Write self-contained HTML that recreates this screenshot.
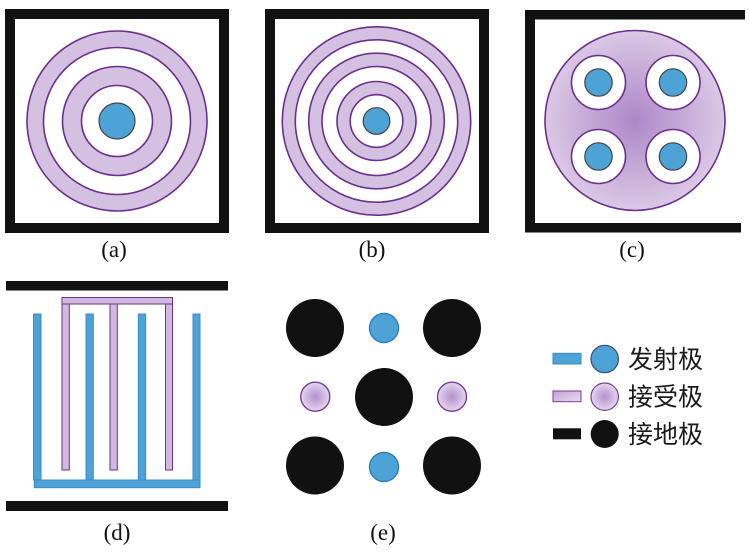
<!DOCTYPE html>
<html><head><meta charset="utf-8"><style>
html,body{margin:0;padding:0;background:#fff;}
svg{display:block;}
.lbl{font-family:"Liberation Serif","Times New Roman",serif;font-size:23px;fill:#111;}
.cjk{font-family:"Liberation Sans","Noto Sans CJK SC",sans-serif;font-size:25px;fill:#1a1a1a;}
</style></head><body>
<svg width="750" height="552" viewBox="0 0 750 552" xmlns="http://www.w3.org/2000/svg">
<defs>
<radialGradient id="gc" cx="50%" cy="50%" r="50%">
<stop offset="0" stop-color="#ad88c7"/><stop offset="1" stop-color="#dac8e5"/>
</radialGradient>
<radialGradient id="gs" cx="50%" cy="50%" r="50%">
<stop offset="0" stop-color="#b48fcd"/><stop offset="1" stop-color="#e4d7ed"/>
</radialGradient>
<linearGradient id="gl" x1="0" y1="0" x2="1" y2="1">
<stop offset="0" stop-color="#c0a2d4"/><stop offset="1" stop-color="#e8ddef"/>
</linearGradient>
</defs>
<rect width="750" height="552" fill="#fff"/>

<!-- (a) -->
<rect x="10" y="14" width="214" height="214" fill="none" stroke="#111" stroke-width="10"/>
<g stroke="#6b2f8e" stroke-width="1.6">
<circle cx="117" cy="121" r="90" fill="#d4c0e0"/>
<circle cx="117" cy="121" r="73.5" fill="#fff"/>
<circle cx="117" cy="121" r="54.5" fill="#d4c0e0"/>
<circle cx="117" cy="121" r="35.5" fill="#fff"/>
</g>
<circle cx="117" cy="121" r="18" fill="#4da2d6" stroke="#444" stroke-width="1.2"/>
<text class="lbl" x="114" y="257" text-anchor="middle">(a)</text>

<!-- (b) -->
<rect x="270" y="14" width="214" height="214" fill="none" stroke="#111" stroke-width="10"/>
<g stroke="#6b2f8e" stroke-width="1.6">
<circle cx="376.5" cy="121" r="94.2" fill="#d4c0e0"/>
<circle cx="376.5" cy="121" r="81.2" fill="#fff"/>
<circle cx="376.5" cy="121" r="67.8" fill="#d4c0e0"/>
<circle cx="376.5" cy="121" r="54.5" fill="#fff"/>
<circle cx="376.5" cy="121" r="39.5" fill="#d4c0e0"/>
<circle cx="376.5" cy="121" r="26.3" fill="#fff"/>
</g>
<circle cx="376.5" cy="121" r="13.3" fill="#4da2d6" stroke="#444" stroke-width="1.2"/>
<text class="lbl" x="372" y="257" text-anchor="middle">(b)</text>

<!-- (c) -->
<rect x="525" y="10" width="220" height="9.5" fill="#111"/>
<rect x="525" y="10" width="10" height="222" fill="#111"/>
<rect x="525" y="223" width="216" height="9.5" fill="#111"/>
<circle cx="635" cy="120.5" r="90" fill="url(#gc)" stroke="#6b2f8e" stroke-width="1.6"/>
<g stroke="#6b2f8e" stroke-width="1.6" fill="#fff">
<circle cx="598.5" cy="82.5" r="27"/>
<circle cx="673" cy="82.5" r="27"/>
<circle cx="598.5" cy="156.5" r="27"/>
<circle cx="673" cy="156.5" r="27"/>
</g>
<g fill="#4da2d6" stroke="#444" stroke-width="1.2">
<circle cx="598.5" cy="82.5" r="13.7"/>
<circle cx="673" cy="82.5" r="13.7"/>
<circle cx="598.5" cy="156.5" r="13.7"/>
<circle cx="673" cy="156.5" r="13.7"/>
</g>
<text class="lbl" x="632" y="257" text-anchor="middle">(c)</text>

<!-- (d) -->
<rect x="6" y="281" width="222" height="9.5" fill="#111"/>
<rect x="6" y="501" width="222" height="10" fill="#111"/>
<g fill="#d0bade" stroke="#6e3290" stroke-width="1">
<rect x="62" y="297.5" width="110.5" height="6.5"/>
<rect x="62" y="304" width="7.3" height="166"/>
<rect x="110" y="304" width="7.3" height="166"/>
<rect x="165.5" y="304" width="7" height="166"/>
</g>
<g fill="#4da2d6" stroke="#3a8cc6" stroke-width="1">
<rect x="33.5" y="314" width="7.5" height="166"/>
<rect x="86" y="314" width="7.3" height="166"/>
<rect x="138.3" y="314" width="7.4" height="166"/>
<rect x="193" y="314" width="7" height="166"/>
<rect x="34.3" y="480" width="165.7" height="7.7"/>
</g>
<text class="lbl" x="117" y="540" text-anchor="middle">(d)</text>

<!-- (e) -->
<g fill="#111">
<circle cx="315" cy="328" r="29"/>
<circle cx="452" cy="328" r="29"/>
<circle cx="384" cy="397" r="29"/>
<circle cx="315" cy="465.5" r="29"/>
<circle cx="452" cy="465.5" r="29"/>
</g>
<g fill="#4da2d6" stroke="#2e7ec0" stroke-width="1.4">
<circle cx="384" cy="328" r="14.5"/>
<circle cx="384" cy="467" r="14.5"/>
</g>
<g fill="url(#gs)" stroke="#7a3a9e" stroke-width="1.4">
<circle cx="315.3" cy="396.7" r="14.5"/>
<circle cx="452" cy="396.7" r="14.5"/>
</g>
<text class="lbl" x="383" y="540" text-anchor="middle">(e)</text>

<!-- legend -->
<rect x="553" y="353.3" width="28" height="10.7" fill="#4da2d6" stroke="#3a8cc6" stroke-width="1"/>
<circle cx="604.7" cy="359" r="13.7" fill="#4da2d6" stroke="#3a4a7a" stroke-width="1.2"/>
<text class="cjk" x="628" y="368">发射极</text>

<rect x="553" y="391" width="28" height="10.7" fill="url(#gl)" stroke="#7a3a9e" stroke-width="1"/>
<circle cx="604.7" cy="396.7" r="13.7" fill="url(#gs)" stroke="#7a3a9e" stroke-width="1.2"/>
<text class="cjk" x="628" y="405.5">接受极</text>

<rect x="553" y="428.3" width="28" height="11" fill="#111"/>
<circle cx="604.7" cy="434" r="14" fill="#111"/>
<text class="cjk" x="628" y="443">接地极</text>
</svg>
</body></html>
